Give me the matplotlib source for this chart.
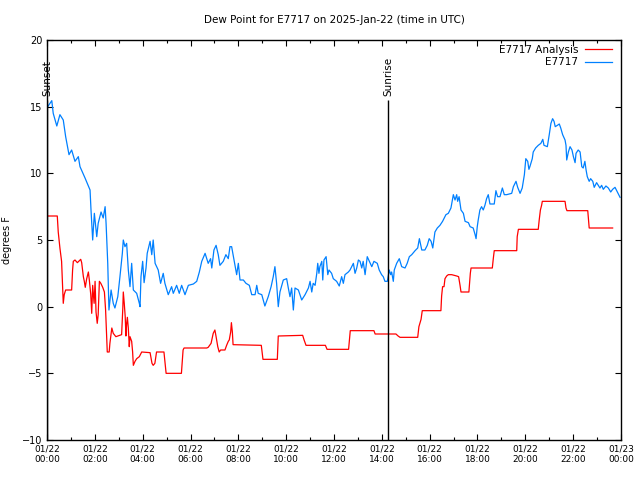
import matplotlib
matplotlib.use("Agg")
import matplotlib.pyplot as plt
import numpy as np

# hours after 00:00 UTC on 2025-01-22, dew point in degrees F
obs_hours = [0.03, 0.20, 0.26, 0.41, 0.54, 0.68, 0.78, 0.92, 1.03, 1.17, 1.31, 1.38, 1.59, 1.80,
             1.84, 1.91, 1.98, 2.08, 2.14, 2.26, 2.35, 2.43, 2.47, 2.54, 2.59, 2.68, 2.77, 2.84,
             2.96, 3.05, 3.15, 3.19, 3.26, 3.33, 3.40, 3.47, 3.54, 3.61, 3.75, 3.86, 3.89, 3.93,
             4.00, 4.06, 4.14, 4.19, 4.31, 4.38, 4.44, 4.52, 4.65, 4.75, 4.86, 4.93, 5.07, 5.21,
             5.28, 5.42, 5.53, 5.63, 5.77, 5.91, 6.12, 6.26, 6.37, 6.47, 6.61, 6.74, 6.84, 6.89,
             6.98, 7.07, 7.16, 7.23, 7.37, 7.48, 7.58, 7.65, 7.72, 7.83, 7.93, 8.00, 8.07, 8.21,
             8.32, 8.46, 8.56, 8.70, 8.77, 8.83, 8.98, 9.04, 9.11, 9.25, 9.37, 9.46, 9.53, 9.60,
             9.67, 9.74, 9.88, 10.02, 10.09, 10.16, 10.23, 10.30, 10.37, 10.51, 10.65, 10.79,
             10.93, 11.00, 11.07, 11.13, 11.21, 11.28, 11.32, 11.37, 11.41, 11.49, 11.53, 11.58,
             11.67, 11.74, 11.79, 11.90, 11.97, 12.11, 12.22, 12.32, 12.39, 12.46, 12.60, 12.67,
             12.81, 12.88, 12.95, 13.02, 13.09, 13.16, 13.22, 13.30, 13.39, 13.48, 13.58, 13.67,
             13.81, 13.89, 13.99, 14.06, 14.13, 14.23, 14.31, 14.37, 14.41, 14.48, 14.52, 14.62,
             14.73, 14.83, 14.97, 15.06, 15.15, 15.25, 15.39, 15.50, 15.57, 15.67, 15.80, 15.90,
             15.98, 16.06, 16.13, 16.22, 16.32, 16.43, 16.54, 16.68, 16.78, 16.89, 16.99, 17.06,
             17.13, 17.17, 17.23, 17.31, 17.41, 17.48, 17.62, 17.69, 17.82, 17.90, 17.94, 17.99,
             18.03, 18.10, 18.17, 18.24, 18.31, 18.38, 18.45, 18.52, 18.70, 18.77, 18.84, 18.94,
             19.04, 19.12, 19.22, 19.43, 19.50, 19.61, 19.68, 19.78, 19.87, 19.96, 20.02, 20.10,
             20.15, 20.19, 20.29, 20.33, 20.43, 20.54, 20.65, 20.73, 20.78, 20.92, 21.00, 21.07,
             21.14, 21.20, 21.25, 21.34, 21.42, 21.48, 21.56, 21.66, 21.70, 21.73, 21.80, 21.87,
             21.95, 22.01, 22.08, 22.12, 22.21, 22.29, 22.36, 22.42, 22.49, 22.54, 22.59, 22.67,
             22.73, 22.82, 22.88, 22.98, 23.05, 23.12, 23.19, 23.26, 23.37, 23.47, 23.57, 23.65,
             23.75, 23.85, 23.96]
obs_dewpt = [15.0, 15.45, 14.5, 13.55, 14.4, 14.0, 12.75, 11.4, 11.75, 10.9, 11.25, 10.5, 9.65, 8.75,
             7.25, 5.0, 7.0, 5.25, 6.25, 7.1, 6.65, 7.5, 6.25, 3.25, -0.25, 1.25, 0.25, -0.1,
             0.75, 2.25, 4.0, 5.0, 4.5, 4.75, 2.75, 1.5, 3.25, 1.25, 1.0, 0.25, 0.0, 2.25,
             3.4, 1.8, 2.9, 4.0, 4.9, 3.9, 5.0, 3.25, 2.75, 1.75, 2.5, 1.75, 0.9, 1.5,
             1.0, 1.6, 1.0, 1.6, 0.9, 1.6, 1.7, 1.9, 2.6, 3.4, 4.0, 3.25, 3.6, 2.9,
             4.25, 4.6, 3.9, 3.1, 3.4, 3.9, 3.6, 4.5, 4.5, 3.4, 2.4, 3.25, 2.0, 2.0,
             1.75, 1.6, 0.9, 0.9, 1.6, 1.0, 0.9, 0.5, 0.05, 0.75, 1.5, 2.25, 3.0, 1.75,
             0.0, 1.1, 2.0, 2.1, 1.4, 0.75, 1.4, -0.25, 1.4, 1.25, 0.5, 0.9,
             1.4, 1.9, 1.1, 1.75, 1.6, 2.5, 3.25, 2.5, 3.0, 3.4, 2.0, 3.5,
             3.75, 2.4, 2.75, 2.5, 2.1, 1.9, 1.55, 2.25, 1.75, 2.4, 2.6, 2.75,
             3.25, 2.5, 2.9, 3.5, 3.4, 2.9, 3.4, 2.4, 3.75, 3.4, 3.0, 3.4,
             3.25, 2.75, 2.4, 2.25, 1.9, 1.9, 2.75, 2.4, 2.6, 1.9, 2.75, 3.25,
             3.6, 3.0, 2.9, 3.25, 3.75, 3.9, 4.2, 4.4, 5.1, 4.25, 4.25, 4.6,
             5.1, 4.9, 4.4, 5.6, 5.9, 6.1, 6.4, 6.9, 7.0, 7.4, 8.4, 8.0,
             8.4, 7.9, 8.25, 7.25, 7.0, 6.4, 6.3, 6.0, 5.9, 5.4, 5.1, 6.0,
             6.5, 7.25, 7.5, 7.25, 7.6, 8.1, 8.4, 7.7, 7.7, 8.7, 8.25, 8.25,
             8.9, 8.4, 8.4, 8.5, 9.0, 9.4, 8.95, 8.5, 8.9, 9.9, 11.1, 10.9,
             10.3, 10.5, 11.1, 11.6, 11.9, 12.1, 12.25, 12.55, 12.1, 12.0, 12.9, 13.75,
             14.1, 13.9, 13.5, 13.6, 13.7, 13.4, 12.9, 12.5, 12.1, 11.0, 11.6, 12.0,
             11.75, 11.25, 10.8, 11.5, 11.75, 11.6, 10.5, 10.4, 10.9, 10.25, 9.75, 9.4,
             9.6, 9.4, 8.95, 9.3, 9.1, 8.9, 9.1, 8.8, 9.05, 8.9, 8.6, 8.8,
             8.95, 8.6, 8.2]

ana_hours = [0.0, 0.43, 0.47, 0.54, 0.61, 0.66, 0.68, 0.72, 0.78, 1.03, 1.07, 1.10, 1.17, 1.27,
             1.41, 1.45, 1.52, 1.56, 1.60, 1.66, 1.73, 1.77, 1.83, 1.87, 1.91, 1.97, 2.01, 2.05,
             2.10, 2.14, 2.19, 2.25, 2.33, 2.40, 2.45, 2.50, 2.52, 2.60, 2.63, 2.71, 2.77, 2.88,
             3.12, 3.17, 3.19, 3.23, 3.27, 3.30, 3.33, 3.36, 3.40, 3.44, 3.47, 3.54, 3.58, 3.61,
             3.68, 3.75, 3.86, 3.96, 4.31, 4.39, 4.44, 4.51, 4.58, 4.89, 4.98, 5.62, 5.69, 5.73,
             6.68, 6.74, 6.86, 6.95, 7.02, 7.07, 7.14, 7.20, 7.26, 7.44, 7.51, 7.58, 7.62, 7.68,
             7.71, 7.75, 7.78, 8.96, 9.03, 9.63, 9.67, 10.69, 10.75, 10.83, 11.64, 11.71, 12.61,
             12.68, 13.67, 13.72, 14.59, 14.68, 14.76, 15.50, 15.55, 15.64, 15.69, 16.47, 16.50,
             16.54, 16.60, 16.64, 16.71, 16.78, 16.92, 17.13, 17.21, 17.27, 17.31, 17.64, 17.70,
             17.73, 18.62, 18.66, 18.70, 19.64, 19.66, 19.71, 20.54, 20.58, 20.63, 20.68, 20.71,
             21.66, 21.70, 21.74, 22.61, 22.63, 22.67, 23.65]
ana_dewpt = [6.8, 6.8, 5.6, 4.4, 3.4, 1.25, 0.25, 0.9, 1.25, 1.25, 2.75, 3.4, 3.5, 3.3,
             3.55, 3.3, 2.25, 1.9, 1.45, 2.1, 2.6, 2.0, 0.9, -0.5, 1.6, 0.25, 1.9, -0.4,
             -1.25, -0.6, 1.9, 1.75, 1.45, 1.1, -0.25, -2.5, -3.4, -3.4, -2.75, -1.6, -2.0, -2.25,
             -2.1, -0.1, 1.1, 0.25, -0.75, -2.2, -1.25, -0.8, -1.6, -3.0, -2.25, -2.6, -3.4, -4.4,
             -4.1, -3.9, -3.75, -3.4, -3.45, -4.25, -4.4, -4.25, -3.4, -3.4, -5.0, -5.0, -3.25, -3.1,
             -3.1, -3.05, -2.75, -2.0, -1.75, -2.25, -3.0, -3.4, -3.25, -3.25, -2.9, -2.6, -2.5, -1.9,
             -1.2, -1.9, -2.85, -2.9, -3.95, -3.95, -2.2, -2.15, -2.5, -2.9, -2.9, -3.2, -3.2,
             -1.8, -1.8, -2.05, -2.05, -2.2, -2.3, -2.3, -1.5, -0.95, -0.3, -0.3, 0.8,
             1.5, 1.5, 2.1, 2.3, 2.4, 2.4, 2.3, 2.25, 1.6, 1.1, 1.1, 2.5,
             2.9, 2.9, 3.6, 4.2, 4.2, 5.25, 5.8, 5.8, 6.5, 7.25, 7.6, 7.9,
             7.9, 7.4, 7.2, 7.2, 6.75, 5.9, 5.9]

sun_events = ["Sunset", "Sunrise"]
sun_hours = [0.0, 14.26]

tick_hours = list(range(0, 25, 2))
tick_labels = ["01/22\n%02d:00" % h for h in tick_hours[:-1]] + ["01/23\n00:00"]

plt.rcParams["font.family"] = "DejaVu Sans"

fig = plt.figure(figsize=(6.4, 4.8), dpi=100)
ax = fig.add_axes([47 / 640, 40 / 480, 574 / 640, 400 / 480])

ax.plot(ana_hours, ana_dewpt, color="#ff0000", lw=0.9, label="E7717 Analysis")
ax.plot(obs_hours, obs_dewpt, color="#0080ff", lw=0.9, label="E7717")

for name, h in zip(sun_events, sun_hours):
    ax.vlines(h, -10, 15.5, color="black", lw=1.0)
    ax.text(h, 15.8, name, rotation=90, ha="center", va="bottom", fontsize=7.5)

ax.set_xlim(0, 24)
ax.set_ylim(-10, 20)
ax.set_xticks(tick_hours)
ax.set_xticklabels(tick_labels, fontsize=6.5)
ax.set_xticks(range(1, 24, 2), minor=True)
ax.set_yticks(range(-10, 21, 5))
ax.tick_params(axis="y", labelsize=7)
ax.tick_params(which="both", direction="in", top=True, right=True, width=0.8)
ax.tick_params(which="major", length=4.5)
ax.tick_params(which="minor", length=2.5)
for s in ax.spines.values():
    s.set_linewidth(1.0)

ax.set_ylabel("degrees F", fontsize=7)
ax.yaxis.set_label_coords(-0.061, 0.5)
ax.set_title("Dew Point for E7717 on 2025-Jan-22 (time in UTC)", fontsize=7.5, pad=12)
ax.legend(loc="upper right", bbox_to_anchor=(1.0, 1.012), frameon=False,
          markerfirst=False, fontsize=7.5, handlelength=2.6, handletextpad=0.6,
          labelspacing=0.25, borderaxespad=0.6, borderpad=0.3)

fig.savefig("out.png", dpi=100)
